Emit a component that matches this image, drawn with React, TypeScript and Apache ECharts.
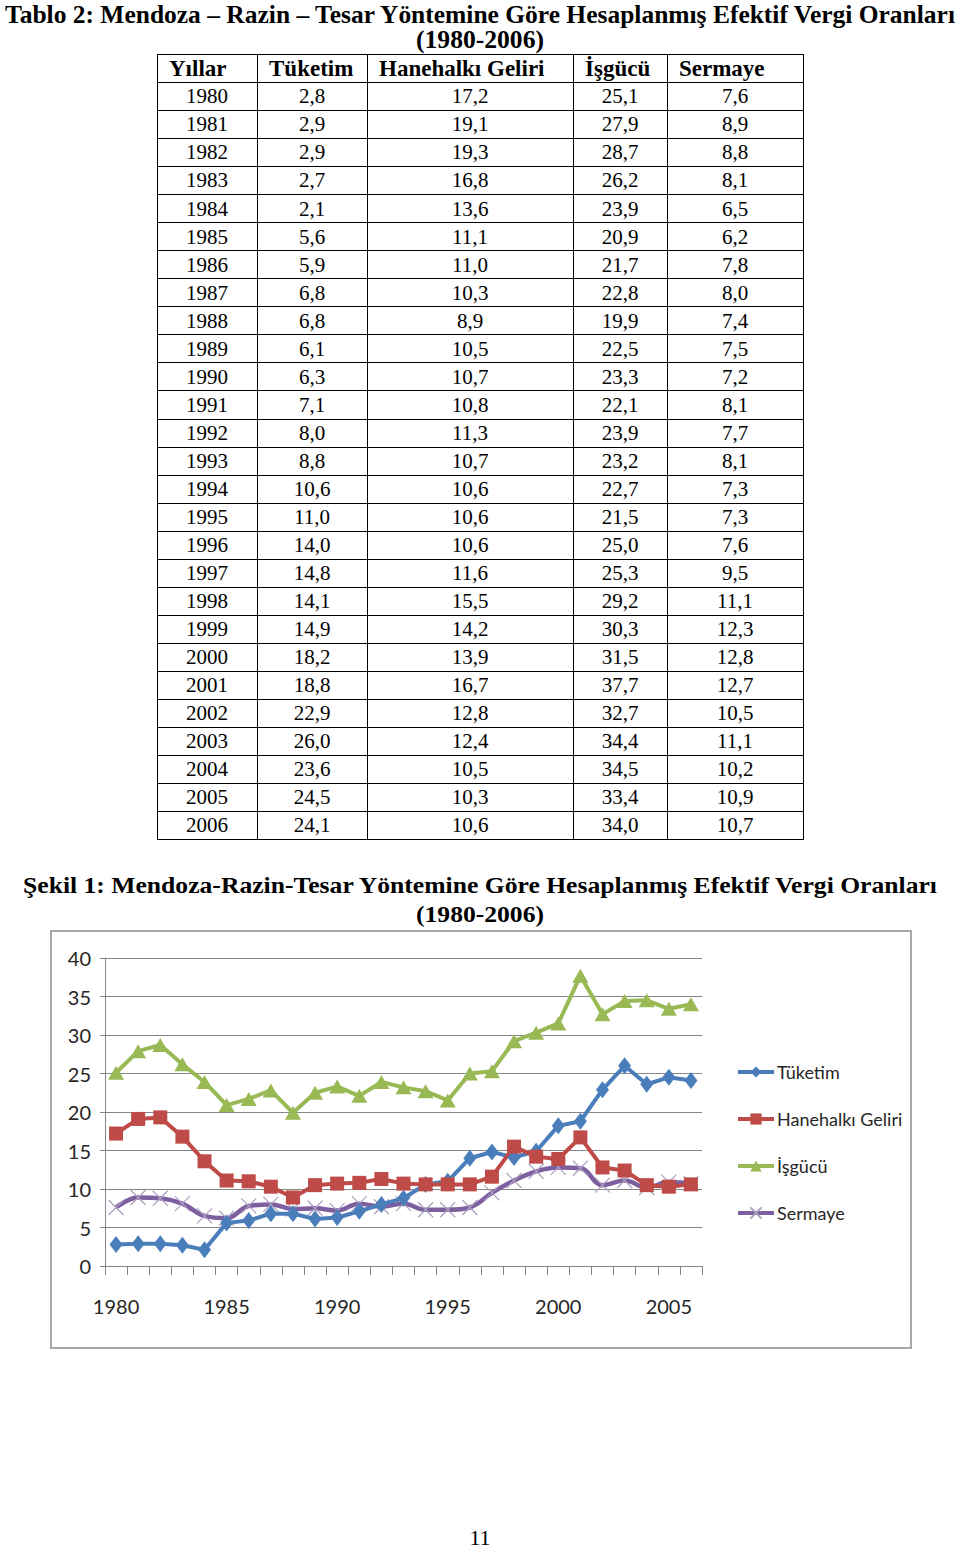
import React, { useEffect, useLayoutEffect, useRef, useState } from "react";
import * as echarts from "echarts";

const years = ["1980","1981","1982","1983","1984","1985","1986","1987","1988","1989","1990","1991","1992","1993","1994","1995","1996","1997","1998","1999","2000","2001","2002","2003","2004","2005","2006"];
const tuketim = [2.8,2.9,2.9,2.7,2.1,5.6,5.9,6.8,6.8,6.1,6.3,7.1,8.0,8.8,10.6,11.0,14.0,14.8,14.1,14.9,18.2,18.8,22.9,26.0,23.6,24.5,24.1];
const hanehalki = [17.2,19.1,19.3,16.8,13.6,11.1,11.0,10.3,8.9,10.5,10.7,10.8,11.3,10.7,10.6,10.6,10.6,11.6,15.5,14.2,13.9,16.7,12.8,12.4,10.5,10.3,10.6];
const isgucu = [25.1,27.9,28.7,26.2,23.9,20.9,21.7,22.8,19.9,22.5,23.3,22.1,23.9,23.2,22.7,21.5,25.0,25.3,29.2,30.3,31.5,37.7,32.7,34.4,34.5,33.4,34.0];
const sermaye = [7.6,8.9,8.8,8.1,6.5,6.2,7.8,8.0,7.4,7.5,7.2,8.1,7.7,8.1,7.3,7.3,7.6,9.5,11.1,12.3,12.8,12.7,10.5,11.1,10.2,10.9,10.7];
const headers = ["Yıllar", "Tüketim", "Hanehalkı Geliri", "İşgücü", "Sermaye"];
const seriesNames = ["Tüketim", "Hanehalkı Geliri", "İşgücü", "Sermaye"];

const SERIF = "'Liberation Serif', 'Times New Roman', serif";
const SANS = "Lato, 'Noto Sans', sans-serif";

function FitText(props: { text: string; cx: number; cy: number; width: number; size: number; bold?: boolean }) {
  const ref = useRef<HTMLSpanElement>(null);
  const [s, setS] = useState(1);
  useLayoutEffect(() => {
    if (ref.current) setS(props.width / ref.current.offsetWidth);
  }, []);
  return (
    <span
      ref={ref}
      style={{
        position: "absolute",
        left: props.cx - props.width / 2,
        top: props.cy - 0.51 * props.size,
        fontFamily: SERIF,
        fontSize: props.size,
        lineHeight: props.size + "px",
        fontWeight: props.bold ? "bold" : "normal",
        whiteSpace: "nowrap",
        transform: `scaleX(${s})`,
        transformOrigin: "left top",
        color: "#000",
      }}
    >
      {props.text}
    </span>
  );
}

const colX = [157, 257, 367, 573, 667, 803];
const tableTop = 54;
const rowH = 28.04;
const fmt = (v: number) => v.toFixed(1).replace(".", ",");

function Table() {
  const rows = years.map((y, i) => [y, fmt(tuketim[i]), fmt(hanehalki[i]), fmt(isgucu[i]), fmt(sermaye[i])]);
  const n = rows.length + 1;
  const els: any[] = [];
  for (let i = 0; i <= n; i++) {
    els.push(
      <div key={"h" + i} style={{ position: "absolute", left: colX[0], top: Math.round(tableTop + i * rowH), width: colX[5] - colX[0] + 1, height: 1, background: "#000" }} />
    );
  }
  colX.forEach((x, j) => {
    els.push(
      <div key={"v" + j} style={{ position: "absolute", left: x, top: tableTop, width: 1, height: Math.round(n * rowH) + 1, background: "#000" }} />
    );
  });
  const fs = 21;
  const hfs = 23;
  headers.forEach((h, j) => {
    els.push(
      <div key={"t" + j} style={{ position: "absolute", left: colX[j] + 12, top: tableTop + rowH / 2 - 0.51 * hfs + 1, fontFamily: SERIF, fontSize: hfs, lineHeight: hfs + "px", fontWeight: "bold", whiteSpace: "nowrap" }}>{h}</div>
    );
  });
  rows.forEach((r, i) => {
    const cy = tableTop + (i + 1.5) * rowH + 1;
    r.forEach((c, j) => {
      els.push(
        <div key={"c" + i + "_" + j} style={{ position: "absolute", left: colX[j], width: colX[j + 1] - colX[j], textAlign: "center", top: cy - 0.51 * fs, fontFamily: SERIF, fontSize: fs, lineHeight: fs + "px", whiteSpace: "nowrap" }}>{c}</div>
      );
    });
  });
  return <>{els}</>;
}

function Chart() {
  const ref = useRef<HTMLDivElement>(null);
  useEffect(() => {
    const chart = echarts.init(ref.current!, undefined, { renderer: "svg" });
    const blue = "#4a7ebb", red = "#be4b48", green = "#98b954", purple = "#7d5fa0";
    const textStyle = { fontFamily: SANS, fontSize: 20, color: "#262626" };
    chart.setOption({
      animation: false,
      grid: { left: 53, top: 26, width: 597, height: 308 },
      legend: {
        orient: "vertical",
        left: 679,
        top: 126,
        itemWidth: 36,
        itemHeight: 14,
        itemGap: 29,
        data: seriesNames,
        lineStyle: { width: 4 },
        textStyle: { ...textStyle, fontSize: 18, padding: [0, 0, 0, -2] },
      },
      xAxis: {
        type: "category",
        data: years,
        boundaryGap: true,
        axisLine: { lineStyle: { color: "#868686", width: 1 } },
        axisTick: { show: true, interval: 0, length: 9, lineStyle: { color: "#868686" } },
        axisLabel: { ...textStyle, interval: 4, margin: 30 },
      },
      yAxis: {
        type: "value",
        min: 0,
        max: 40,
        interval: 5,
        axisLine: { show: true, lineStyle: { color: "#868686", width: 1 } },
        axisTick: { show: true, length: 5, lineStyle: { color: "#868686" } },
        axisLabel: { ...textStyle, margin: 14 },
        splitLine: { lineStyle: { color: "#868686", width: 1 } },
      },
      series: [
        {
          name: seriesNames[0], type: "line", data: tuketim, color: blue, showAllSymbol: true,
          symbol: "diamond", symbolSize: [13, 17],
          lineStyle: { width: 4, color: blue }, itemStyle: { color: blue },
        },
        {
          name: seriesNames[1], type: "line", data: hanehalki, color: red, showAllSymbol: true,
          symbol: "rect", symbolSize: 14,
          lineStyle: { width: 4, color: red }, itemStyle: { color: red },
        },
        {
          name: seriesNames[2], type: "line", data: isgucu, color: green, showAllSymbol: true,
          symbol: "triangle", symbolSize: [16, 14],
          lineStyle: { width: 4, color: green }, itemStyle: { color: green },
        },
        {
          name: seriesNames[3], type: "line", data: sermaye, color: purple, smooth: 0.4, showAllSymbol: true,
          symbol: "path://M0,0L10,10M10,0L0,10", symbolSize: 15,
          lineStyle: { width: 4.5, color: purple },
          itemStyle: { color: "#b4abc8", borderColor: "#aaa0c0", borderWidth: 1.2 },
          z: 1,
        },
      ],
    });
    return () => chart.dispose();
  }, []);
  return (
    <div style={{ position: "absolute", left: 50, top: 930, width: 862, height: 419, border: "2px solid #a8a8a8", boxSizing: "border-box" }}>
      <div ref={ref} style={{ width: 858, height: 415 }} />
    </div>
  );
}

export default function App() {
  return (
    <div style={{ position: "absolute", left: 0, top: 0, width: 960, height: 1550, background: "#fff", overflow: "hidden" }}>
      <FitText text="Tablo 2: Mendoza – Razin – Tesar Yöntemine Göre Hesaplanmış Efektif Vergi Oranları" cx={480} cy={14.5} width={950} size={25} bold />
      <FitText text="(1980-2006)" cx={480} cy={40} width={128} size={25} bold />
      <Table />
      <FitText text="Şekil 1: Mendoza-Razin-Tesar Yöntemine Göre Hesaplanmış Efektif Vergi Oranları" cx={480} cy={885} width={914} size={24} bold />
      <FitText text="(1980-2006)" cx={480} cy={914} width={128} size={24} bold />
      <Chart />
      <div style={{ position: "absolute", left: 0, width: 960, textAlign: "center", top: 1538 - 0.51 * 22, fontFamily: SERIF, fontSize: 22, lineHeight: "22px" }}>11</div>
    </div>
  );
}
